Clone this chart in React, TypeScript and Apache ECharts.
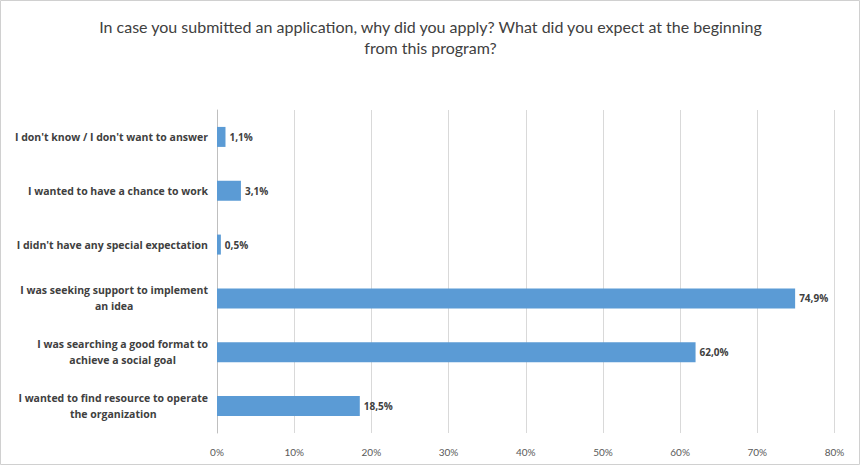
import React, { useEffect, useRef } from "react";
import * as echarts from "echarts";

const titleLines = [
  "In case you submitted an application, why did you apply? What did you expect at the beginning",
  "from this program?",
];

const categories = [
  "I don't know / I don't want to answer",
  "I wanted to have a chance to work",
  "I didn't have any special expectation",
  "I was seeking support to implement\nan idea",
  "I was searching a good format to\nachieve a social goal",
  "I wanted to find resource to operate\nthe organization",
];

const values = [1.1, 3.1, 0.5, 74.9, 62.0, 18.5];

const xTicks = { min: 0, max: 80, interval: 10 };

const FONT = "Lato, 'Open Sans', sans-serif";
const LABEL_FONT = "'Open Sans', Lato, sans-serif";

export default function App() {
  const ref = useRef<HTMLDivElement>(null);
  useEffect(() => {
    if (!ref.current) return;
    const chart = echarts.init(ref.current, undefined, { renderer: "svg" });
    chart.setOption({
      animation: false,
      backgroundColor: "#ffffff",
      title: {
        text: titleLines.join("\n"),
        left: "center",
        top: 11,
        textStyle: {
          fontFamily: FONT,
          fontSize: 16,
          fontWeight: "normal",
          color: "#404040",
          lineHeight: 21,
        },
      },
      graphic: [
        {
          type: "rect",
          shape: { x: 0.5, y: 0.5, width: 859, height: 464 },
          style: { fill: "none", stroke: "#d0d0d0", lineWidth: 1 },
          silent: true,
        },
      ],
      grid: { left: 217, right: 26.5, top: 110, bottom: 33 },
      xAxis: {
        type: "value",
        min: xTicks.min,
        max: xTicks.max,
        interval: xTicks.interval,
        axisLine: { show: false },
        axisTick: { show: false },
        splitLine: { show: true, lineStyle: { color: "#d9d9d9", width: 1 } },
        axisLabel: {
          formatter: "{value}%",
          margin: 14,
          fontFamily: FONT,
          fontSize: 10,
          color: "#595959",
        },
      },
      yAxis: {
        type: "category",
        inverse: true,
        data: categories,
        axisLine: { show: true, lineStyle: { color: "#bfbfbf", width: 1 } },
        axisTick: { show: false },
        axisLabel: {
          margin: 9,
          formatter: (v: string) =>
            v
              .split("\n")
              .map((l) => `{a|${l}}`)
              .join("\n"),
          rich: {
            a: {
              align: "center",
              fontFamily: LABEL_FONT,
              fontSize: 10.5,
              fontWeight: "bold",
              color: "#404040",
              lineHeight: 16,
            },
          },
        },
      },
      series: [
        {
          type: "bar",
          data: values,
          barWidth: 20,
          itemStyle: { color: "#5b9bd5" },
          label: {
            show: true,
            position: "right",
            distance: 4,
            formatter: (p: any) => p.value.toFixed(1).replace(".", ",") + "%",
            fontFamily: LABEL_FONT,
            fontSize: 10,
            fontWeight: "bold",
            color: "#404040",
          },
        },
      ],
    });
    return () => chart.dispose();
  }, []);
  return (
    <div
      ref={ref}
      style={{ position: "fixed", left: 0, top: 0, width: 861, height: 466 }}
    />
  );
}
